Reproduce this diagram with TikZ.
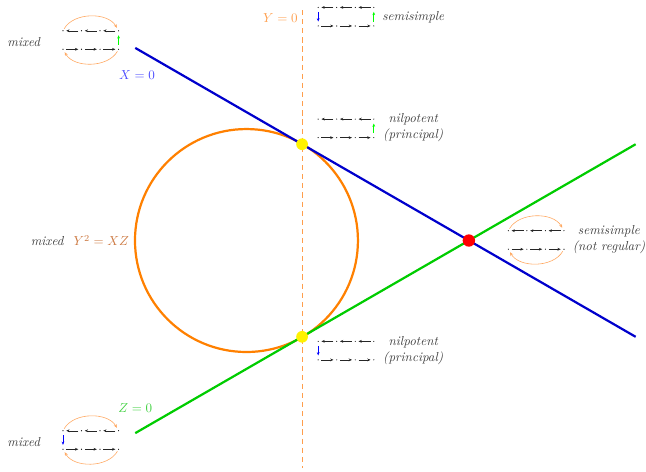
\documentclass[tikz,border=0pt]{standalone}
\usetikzlibrary{arrows.meta}
\definecolor{lineblue}{rgb}{0,0,0.8}
\definecolor{linegreen}{rgb}{0,0.8,0}
\definecolor{labblue}{rgb}{0.3,0.3,1}
\definecolor{labgreen}{rgb}{0.25,0.82,0.25}
\definecolor{laborange}{rgb}{1,0.62,0.3}
\definecolor{conicbrown}{rgb}{0.8,0.47,0.25}
\definecolor{arcorange}{rgb}{1,0.66,0.38}
\definecolor{txtgray}{rgb}{0.25,0.25,0.25}
\tikzset{
  dashline/.style={laborange, line width=0.6pt, dash pattern=on 4pt off 3pt},
  conic/.style={orange, line width=1.7pt},
  xline/.style={lineblue, line width=1.7pt},
  zline/.style={linegreen, line width=1.7pt},
  ydot/.style={circle, fill=yellow, inner sep=0pt, minimum size=9pt},
  rdot/.style={circle, fill=red, inner sep=0pt, minimum size=9.5pt},
  rowarrow/.style={black!85, line width=0.35pt, shorten <=2.5pt, shorten >=2.5pt, -{Stealth[length=2.5pt,width=2.1pt]}},
  uparrow/.style={green, line width=0.45pt, shorten <=3.4pt, shorten >=3.4pt, -{Stealth[length=2.5pt,width=2.1pt]}},
  downarrow/.style={blue, line width=0.45pt, shorten <=3.4pt, shorten >=3.4pt, -{Stealth[length=2.5pt,width=2.1pt]}},
  arcarrow/.style={arcorange, line width=0.45pt, shorten <=1.8pt, shorten >=2.6pt, -{Stealth[length=2.8pt,width=2.4pt]}},
  desc/.style={text=txtgray, font=\itshape, align=center, inner sep=0pt},
  rows/.pic={
    \foreach \i in {1,...,4} {
      \coordinate (-t\i) at ({(\i-2.5)/3}, 1/6);
      \coordinate (-b\i) at ({(\i-2.5)/3}, -1/6);
      \fill[black] (-t\i) circle (0.45pt);
      \fill[black] (-b\i) circle (0.45pt);
    }
    \foreach \i/\j in {1/2,2/3,3/4} {
      \draw[rowarrow] (-t\j) -- (-t\i);
      \draw[rowarrow] (-b\i) -- (-b\j);
    }
  }
}
\begin{document}
\begin{tikzpicture}[x=1.5cm,y=1.5cm]
\useasboundingbox (-4.433,-4.146) rectangle (7.186,4.326);

% main geometry
\coordinate (C) at (0,0);
\coordinate (X1) at (-2,3.464); \coordinate (X2) at (7,-1.732);
\coordinate (Z1) at (-2,-3.464); \coordinate (Z2) at (7,1.732);
\coordinate (Ytop) at (1,4.146); \coordinate (Ybot) at (1,-4.09);

\draw[dashline] (Ytop) -- (Ybot);
\draw[conic] (C) circle (2.005);
\draw[xline] (X1) -- (X2);
\draw[zline] (Z1) -- (Z2);
\node[ydot] (P) at (1,1.732) {};
\node[ydot] (Q) at (1,-1.732) {};
\node[rdot] (R) at (4,0) {};

% labels of curves
\node[text=labblue, inner sep=0pt] (LX) at (-1.97,2.98) {$X=0$};
\node[text=labgreen, inner sep=0pt] (LZ) at (-2.0,-3.02) {$Z=0$};
\node[text=laborange, inner sep=0pt] (LY) at (0.61,4.01) {$Y=0$};
\node[text=conicbrown, inner sep=0pt] (LC) at (-2.61,0) {$Y^2=XZ$};

% icons
\pic (m1) at (-2.8,3.606) {rows};
\pic (s1) at (1.79,4.026) {rows};
\pic (n1) at (1.79,2.017) {rows};
\pic (n2) at (1.79,-1.98) {rows};
\pic (s2) at (5.21,0.01) {rows};
\pic (m2) at (-2.8,-3.588) {rows};

% vertical arrows
\draw[uparrow] (m1-b4) -- (m1-t4);
\draw[downarrow] (s1-t1) -- (s1-b1);
\draw[uparrow] (s1-b4) -- (s1-t4);
\draw[uparrow] (n1-b4) -- (n1-t4);
\draw[downarrow] (n2-t1) -- (n2-b1);
\draw[downarrow] (m2-t1) -- (m2-b1);

% orange arcs
\draw[arcarrow] (m1-t1) to[bend left=60] (m1-t4);
\draw[arcarrow] (m1-b4) to[bend left=60] (m1-b1);
\draw[arcarrow] (s2-t1) to[bend left=60] (s2-t4);
\draw[arcarrow] (s2-b4) to[bend left=60] (s2-b1);
\draw[arcarrow] (m2-t1) to[bend left=60] (m2-t4);
\draw[arcarrow] (m2-b4) to[bend left=60] (m2-b1);

% descriptions
\node[desc] (d1) at (-4.005,3.576) {mixed};
\node[desc] (d2) at (-4.005,-3.62) {mixed};
\node[desc] (d3) at (-3.585,-0.01) {mixed};
\node[desc] (d4) at (3.0,4.01) {semisimple};
\node[desc] (d5) at (3.0,2.03) {nilpotent\\(principal)};
\node[desc] (d6) at (3.0,-1.975) {nilpotent\\(principal)};
\node[desc] (d7) at (6.52,0.015) {semisimple\\(not regular)};
\end{tikzpicture}
\end{document}
